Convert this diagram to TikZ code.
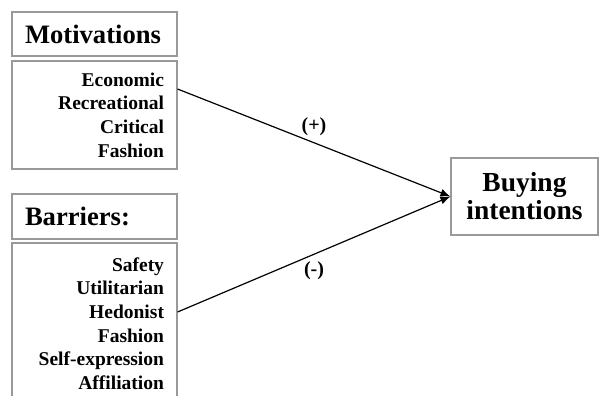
\documentclass[tikz,border=0pt]{standalone}
\usepackage{fontspec}
\setmainfont{Liberation Serif}
\usetikzlibrary{arrows.meta}
\begin{document}
\begin{tikzpicture}[x=1pt,y=-1pt,
  box/.style={draw=black!40, line width=1.1pt, rectangle, inner ysep=0pt, inner xsep=13pt, font=\bfseries},
  head/.style={box, minimum width=165pt, text width=139pt, align=left, font=\fontsize{26.6}{30}\selectfont\bfseries},
  listbox/.style={box, minimum width=165pt, text width=139pt, align=right, font=\fontsize{19.5}{23.6}\selectfont\bfseries},
  conn/.style={line width=1.2pt, -{Latex[length=10pt,width=8pt]}},
  sign/.style={font=\fontsize{20}{24}\selectfont\bfseries}]
\useasboundingbox (0,0) rectangle (603,396);
\clip (0,0) rectangle (603,396);
\fill[white] (0,0) rectangle (603,396);
\node[head, minimum height=44pt] (mothead) at (94.5,34) {Motivations};
\node[listbox, minimum height=108pt] (motlist) at (94.5,115) {Economic\\Recreational\\Critical\\Fashion};
\node[head, minimum height=45pt] (barhead) at (94.5,216.5) {Barriers:};
\node[listbox, minimum height=161pt] (barlist) at (94.5,323.5) {Safety\\Utilitarian\\Hedonist\\Fashion\\Self-expression\\Affiliation};
\node[box, minimum width=147pt, minimum height=77pt, align=center, font=\fontsize{27.5}{28}\selectfont\bfseries] (buy) at (524.5,196.5) {Buying\\intentions};
\draw[conn] ([yshift=26pt]motlist.east) -- node[sign, pos=0.5, above=3pt] (plus) {(+)} (buy.west);
\draw[conn] ([yshift=11.5pt]barlist.east) -- node[sign, pos=0.5, below=3pt] (minus) {(-)} (buy.west);
\end{tikzpicture}
\end{document}
